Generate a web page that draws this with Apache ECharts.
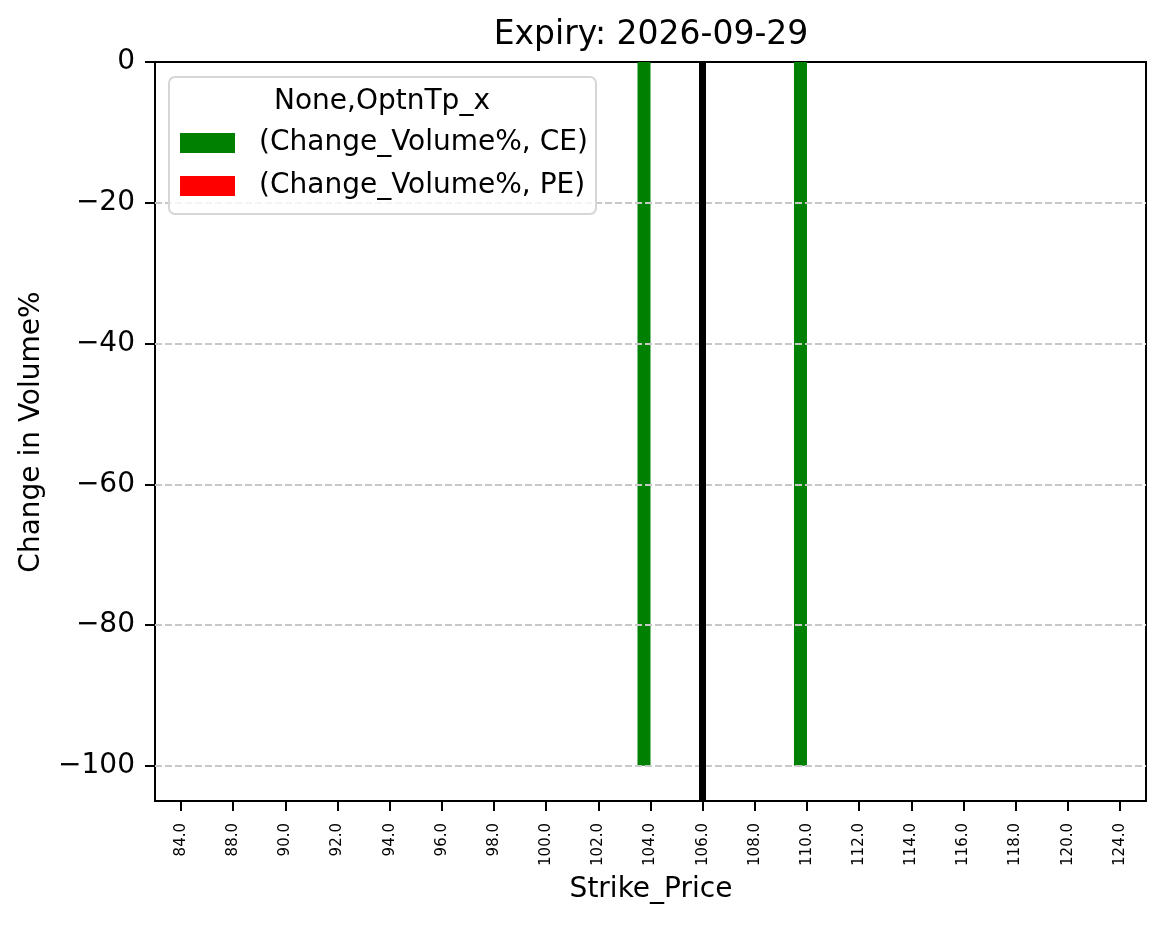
<!DOCTYPE html>
<html>
<head>
<meta charset="utf-8">
<script src="https://cdn.jsdelivr.net/npm/echarts@6/dist/echarts.min.js"></script>
<style>
html,body{margin:0;padding:0;background:#fff;}
#chart{width:1166px;height:929px;}
</style>
</head>
<body>
<div id="chart"></div>
<script>
const strikes = ['84.0','88.0','90.0','92.0','94.0','96.0','98.0','100.0','102.0','104.0','106.0','108.0','110.0','112.0','114.0','116.0','118.0','120.0','124.0'];
const ceValues = [0,0,0,0,0,0,0,0,0,-100,0,0,-100,0,0,0,0,0,0];
const peValues = [0,0,0,0,0,0,0,0,0,0,0,0,0,0,0,0,0,0,0];
const yTicks = [0,-20,-40,-60,-80,-100];
const gridLines = [-20,-40,-60,-80,-100];
const spotStrike = '106.0';
const yMin = -105, yMax = 0;
const titleText = 'Expiry: 2026-09-29';
const legendTitle = 'None,OptnTp_x';
const ceName = '(Change_Volume%, CE)';
const peName = '(Change_Volume%, PE)';

const chart = echarts.init(document.getElementById('chart'), null, {renderer:'canvas'});
const mainFont = 'DejaVu Sans';
const option = {
  animation:false,
  backgroundColor:'#ffffff',
  grid:{left:155,right:20,top:62,bottom:128,show:true,borderColor:'#000',borderWidth:2,backgroundColor:'transparent'},
  xAxis:{
    type:'category',
    data:strikes,
    boundaryGap:true,
    axisLine:{show:true,onZero:false,lineStyle:{color:'#000',width:2}},
    axisTick:{show:true,alignWithLabel:true,length:10,lineStyle:{color:'#000',width:2}},
    axisLabel:{rotate:90,fontFamily:mainFont,fontSize:15,color:'#000',margin:22,interval:0},
    splitLine:{show:false}
  },
  yAxis:{
    type:'value',
    min:yMin,max:yMax,
    axisLine:{show:true,onZero:false,lineStyle:{color:'#000',width:2}},
    axisTick:{show:true,length:10,lineStyle:{color:'#000',width:2},customValues:yTicks},
    axisLabel:{fontFamily:mainFont,fontSize:28,color:'#000',margin:20,customValues:yTicks,
      formatter:function(v){return String(v).replace('-','\u2212');}},
    splitLine:{show:false}
  },
  legend:{
    orient:'vertical',
    left:180,top:129,
    itemWidth:55,itemHeight:20,itemGap:15,
    icon:'rect',
    padding:0,
    z:20,
    textStyle:{fontFamily:mainFont,fontSize:28,color:'#000',padding:[0,0,0,19]},
    data:[ceName,peName]
  },
  graphic:[
    {type:'rect',z:10,shape:{x:169,y:77,width:427,height:137,r:6},style:{fill:'rgba(255,255,255,0.8)',stroke:'#d6d6d6',lineWidth:2}},
    {type:'text',z:11,x:382,y:102,style:{text:legendTitle,font:'28px "DejaVu Sans"',fill:'#000',align:'center',verticalAlign:'middle'}},
    {type:'text',z:11,x:651,y:35,style:{text:titleText,font:'33px "DejaVu Sans"',fill:'#000',align:'center',verticalAlign:'middle'}},
    {type:'text',z:11,x:651,y:890,style:{text:'Strike_Price',font:'28px "DejaVu Sans"',fill:'#000',align:'center',verticalAlign:'middle'}},
    {type:'text',z:11,x:32,y:432,rotation:Math.PI/2,style:{text:'Change in Volume%',font:'28px "DejaVu Sans"',fill:'#000',align:'center',verticalAlign:'middle'}}
  ],
  series:[
    {
      name:ceName,type:'bar',data:ceValues,barWidth:13,barGap:'0%',
      itemStyle:{color:'#008000'},
      z:3
    },
    {
      name:peName,type:'bar',data:peValues,barWidth:13,barGap:'0%',
      itemStyle:{color:'#ff0000'},
      z:2,
      markLine:{
        silent:true,symbol:'none',label:{show:false},
        lineStyle:{color:'#c8c8c8',width:1.8,type:[7,3]},
        data:gridLines.map(v=>({yAxis:v}))
      }
    },
    {
      name:'spot',type:'line',data:[],z:4,
      markLine:{
        silent:true,symbol:'none',label:{show:false},
        lineStyle:{color:'#000',width:7,type:'solid'},
        data:[{xAxis:spotStrike}]
      }
    }
  ]
};
chart.setOption(option);
</script>
</body>
</html>
